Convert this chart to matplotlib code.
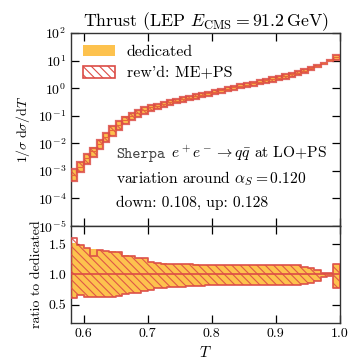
import numpy as np
import matplotlib
matplotlib.use("Agg")
import matplotlib.pyplot as plt
from matplotlib.patches import Patch

# ---------------- data ----------------
bin_edges = [0.58, 0.59, 0.60, 0.61, 0.62, 0.63, 0.64, 0.65, 0.66, 0.67, 0.68,
             0.69, 0.70, 0.71, 0.72, 0.73, 0.74, 0.75, 0.76, 0.77, 0.78,
             0.79, 0.80, 0.81, 0.82, 0.83, 0.84, 0.85, 0.86, 0.87, 0.88,
             0.89, 0.90, 0.91, 0.92, 0.93, 0.94, 0.95, 0.96, 0.97, 0.98,
             0.99, 1.00]
nominal = [7.1e-4, 1.38e-3, 2.9e-3, 5.2e-3, 9.8e-3, 1.74e-2, 3.0e-2, 4.6e-2,
           7.2e-2, 0.100, 0.129, 0.158, 0.204, 0.234, 0.275, 0.309, 0.355,
           0.398, 0.447, 0.513, 0.575, 0.646, 0.741, 0.832, 0.933, 1.07, 1.20,
           1.35, 1.51, 1.70, 1.91, 2.14, 2.45, 2.75, 3.16, 3.72, 4.37, 5.25,
           6.46, 7.94, 10.2, 13.2]
ded_up = [1.52, 1.48, 1.43, 1.42, 1.40, 1.39, 1.39, 1.37, 1.32, 1.30, 1.28,
          1.27, 1.20, 1.19, 1.19, 1.18, 1.17, 1.17, 1.17, 1.17, 1.16, 1.16,
          1.16, 1.16, 1.16, 1.16, 1.16, 1.16, 1.16, 1.16, 1.16, 1.16, 1.16,
          1.16, 1.16, 1.16, 1.13, 1.11, 1.07, 1.03, 1.02, 1.17]
ded_dn = [0.61, 0.66, 0.62, 0.62, 0.62, 0.63, 0.63, 0.65, 0.68, 0.70, 0.70,
          0.72, 0.75, 0.77, 0.78, 0.79, 0.80, 0.80, 0.81, 0.81, 0.81, 0.82,
          0.82, 0.82, 0.82, 0.82, 0.82, 0.82, 0.82, 0.82, 0.82, 0.82, 0.82,
          0.82, 0.82, 0.82, 0.84, 0.86, 0.90, 0.95, 0.97, 0.78]
rew_up = [1.60, 1.48, 1.43, 1.31, 1.40, 1.39, 1.37, 1.37, 1.31, 1.30, 1.28,
          1.27, 1.20, 1.19, 1.18, 1.18, 1.17, 1.17, 1.17, 1.16, 1.16, 1.16,
          1.16, 1.16, 1.16, 1.16, 1.16, 1.16, 1.16, 1.16, 1.16, 1.16, 1.16,
          1.16, 1.16, 1.16, 1.13, 1.11, 1.07, 1.03, 1.02, 1.17]
rew_dn = [0.61, 0.66, 0.62, 0.62, 0.62, 0.63, 0.63, 0.65, 0.68, 0.70, 0.70,
          0.72, 0.75, 0.77, 0.78, 0.79, 0.80, 0.80, 0.81, 0.81, 0.81, 0.82,
          0.82, 0.82, 0.82, 0.82, 0.82, 0.82, 0.82, 0.82, 0.82, 0.82, 0.82,
          0.82, 0.82, 0.82, 0.84, 0.86, 0.90, 0.95, 0.97, 0.78]
main_yticks = [1e-5, 1e-4, 1e-3, 1e-2, 1e-1, 1e0, 1e1, 1e2]
ratio_yticks = [0.5, 1.0, 1.5]
x_ticks = [0.6, 0.7, 0.8, 0.9, 1.0]
x_ticklabels = ["0.6", "0.7", "0.8", "0.9", "1.0"]

# ---------------- style ----------------
plt.rcParams.update({
    "font.family": ["cmr10", "DejaVu Serif"],
    "mathtext.fontset": "cm",
    "axes.formatter.use_mathtext": True,
    "axes.unicode_minus": False,
    "hatch.linewidth": 0.8,
    "axes.edgecolor": "#333333",
    "axes.linewidth": 1.0,
    "xtick.direction": "in",
    "ytick.direction": "in",
    "xtick.top": True,
    "ytick.right": True,
})
YEL = "#fdc24e"
RED = "#dc4c46"

edges = np.array(bin_edges)
lo = edges[:-1]
w = np.diff(edges)
nom = np.array(nominal)

fig = plt.figure(figsize=(3.5, 3.64), dpi=100)
ax = fig.add_axes([0.203, 0.379, 0.768, 0.530])
axr = fig.add_axes([0.203, 0.113, 0.768, 0.266], sharex=ax)

# main panel
ax.bar(lo, nom * (np.array(ded_up) - np.array(ded_dn)), bottom=nom * np.array(ded_dn),
       width=w, align="edge", color=YEL, edgecolor="none", zorder=2)
ax.bar(lo, nom * (np.array(rew_up) - np.array(rew_dn)), bottom=nom * np.array(rew_dn),
       width=w, align="edge", facecolor="none", edgecolor=RED, hatch="\\\\\\\\",
       linewidth=1.6, alpha=0.85, zorder=3)
ax.hlines(nom, lo, lo + w, color="#e8653a", lw=0.8, zorder=4)
ax.set_yscale("log")
ax.set_ylim(1e-5, 1e2)
ax.set_xlim(0.58, 1.0)
ax.set_yticks(main_yticks)
ax.tick_params(axis="x", labelbottom=False)
ax.tick_params(which="major", length=6, width=0.9, labelsize=10)
ax.tick_params(which="minor", length=3, width=0.7)
ax.set_ylabel(r"$1/\sigma\;\mathrm{d}\sigma/\mathrm{d}T$", fontsize=10)
ax.set_title(r"Thrust (LEP $E_{\mathrm{CMS}} = 91.2\,\mathrm{GeV}$)", fontsize=12.8, pad=4)

leg = ax.legend(handles=[Patch(facecolor=YEL, edgecolor="none", label="dedicated"),
                         Patch(facecolor="white", edgecolor=RED, hatch="\\\\\\\\",
                               lw=1.2, label="rew'd: ME+PS")],
                loc="upper left", frameon=False, fontsize=11.5, handlelength=2.0,
                handleheight=0.69, handletextpad=0.75, borderaxespad=0.35,
                labelspacing=0.45)

ax.text(0.168, 0.352, "Sherpa", transform=ax.transAxes, family="cmtt10", fontsize=11.2,
        color="#444444", va="baseline")
ax.text(0.372, 0.352, r"$e^+e^-\to q\bar{q}$ at LO+PS", transform=ax.transAxes,
        fontsize=11.2, va="baseline")
ax.text(0.168, 0.223, r"variation around $\alpha_S = 0.120$", transform=ax.transAxes,
        fontsize=11.2, va="baseline")
ax.text(0.168, 0.098, "down: 0.108, up: 0.128", transform=ax.transAxes,
        fontsize=11.2, va="baseline")

# ratio panel
ded_up_s = np.append(ded_up, ded_up[-1])
ded_dn_s = np.append(ded_dn, ded_dn[-1])
rew_up_s = np.append(rew_up, rew_up[-1])
rew_dn_s = np.append(rew_dn, rew_dn[-1])
axr.fill_between(edges, ded_dn_s, ded_up_s, step="post", color=YEL, lw=0, zorder=2)
axr.fill_between(edges, rew_dn_s, rew_up_s, step="post", facecolor="none",
                 edgecolor=RED, hatch="\\\\\\\\", lw=1.3, alpha=0.9, zorder=3)
axr.axhline(1.0, color=RED, lw=1.2, zorder=4)
axr.set_ylim(0.2, 1.8)
axr.set_yticks(ratio_yticks)
axr.set_yticklabels(["0.5", "1.0", "1.5"])
axr.set_xticks(x_ticks)
axr.set_xticklabels(x_ticklabels)
axr.tick_params(which="major", length=6, width=0.9, labelsize=10)
axr.set_xlabel(r"$T$", fontsize=11)
axr.set_ylabel("ratio to dedicated", fontsize=10)

fig.align_ylabels([ax, axr])
fig.savefig("out.png", dpi=100)
